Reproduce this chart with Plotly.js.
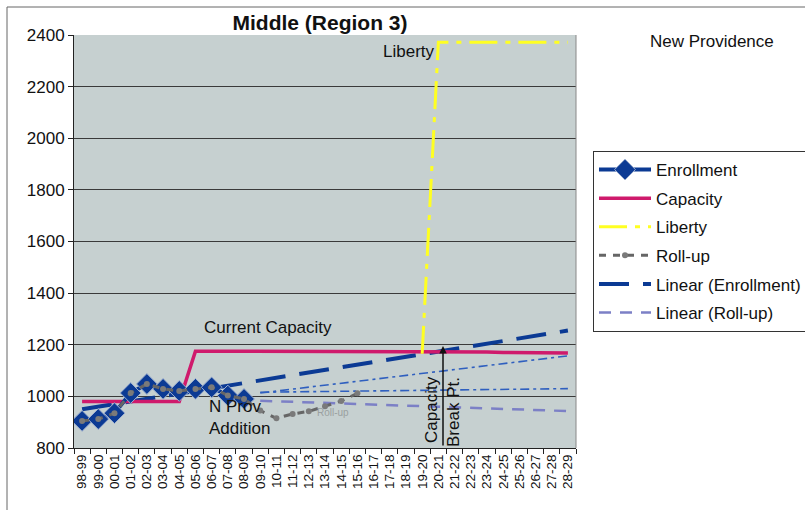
<!DOCTYPE html>
<html>
<head>
<meta charset="utf-8">
<script src="https://cdn.plot.ly/plotly-3.0.1.min.js"></script>
<style>html,body{margin:0;padding:0;background:#fff;}#chart{width:805px;height:510px;}</style>
</head>
<body>
<div id="chart"></div>
<script>
// ---- data ----
const years = ['98-99','99-00','00-01','01-02','02-03','03-04','04-05','05-06','06-07','07-08','08-09',
  '09-10','10-11','11-12','12-13','13-14','14-15','15-16','16-17','17-18','18-19','19-20','20-21',
  '21-22','22-23','23-24','24-25','25-26','26-27','27-28','28-29'];

const enrollmentYears = ['98-99','99-00','00-01','01-02','02-03','03-04','04-05','05-06','06-07','07-08','08-09'];
const enrollment = [905, 912, 935, 1013, 1048, 1029, 1021, 1029, 1035, 1003, 990];

const capacity = [980, 980, 980, 980, 980, 980, 980, 1175, 1175, 1175, 1175, 1175, 1175, 1175, 1175,
  1175, 1175, 1175, 1175, 1175, 1175, 1175, 1172, 1172, 1172, 1172, 1170, 1170, 1170, 1170, 1168];

const libertyYears = ['19-20','20-21','21-22','22-23','23-24','24-25','25-26','26-27','27-28','28-29'];
const liberty = [1165, 2372, 2372, 2372, 2372, 2372, 2372, 2372, 2372, 2372];

const rollupYears = ['98-99','99-00','00-01','01-02','02-03','03-04','04-05','05-06','06-07','07-08','08-09',
  '09-10','10-11','11-12','12-13','13-14','14-15','15-16'];
const rollup = [905, 912, 935, 1013, 1048, 1029, 1021, 1029, 1035, 1003, 990, 945, 915, 932, 942, 962, 982, 1012];

const linEnrollYears = ['98-99','28-29'];
const linEnroll = [950, 1255];

const linRollupYears = ['09-10','28-29'];
const linRollup = [983, 943];

const trendAYears = ['09-10','28-29'];
const trendA = [1013, 1157];
const trendBYears = ['09-10','28-29'];
const trendB = [1016, 1030];

const yTicks = [800, 1000, 1200, 1400, 1600, 1800, 2000, 2200, 2400];

// ---- chart ----
const F = 'Arial, "Liberation Sans", sans-serif';
const traces = [
  {x: linRollupYears, y: linRollup, name: 'Linear (Roll-up)', mode: 'lines', legendrank: 6, legendgroup: 'g6',
   line: {color: '#7C80C6', width: 2.5, dash: '12px,9px'}},
  {x: trendAYears, y: trendA, name: 'trendA', mode: 'lines', showlegend: false,
   line: {color: '#2F5FBF', width: 1.6, dash: '9px,4px,3px,4px'}},
  {x: trendBYears, y: trendB, name: 'trendB', mode: 'lines', showlegend: false,
   line: {color: '#2F5FBF', width: 1.6, dash: '9px,4px,3px,4px'}},
  {x: linEnrollYears, y: linEnroll, name: 'Linear (Enrollment)', mode: 'lines', legendrank: 5, legendgroup: 'g5',
   line: {color: '#0B3A94', width: 4, dash: '30px,14px'}},
  {x: years, y: capacity, name: 'Capacity', mode: 'lines', legendrank: 2, legendgroup: 'g2',
   line: {color: '#CF1A6C', width: 3.5}},
  {x: libertyYears, y: liberty, name: 'Liberty', mode: 'lines', legendrank: 3, legendgroup: 'g3',
   line: {color: '#FFFF22', width: 3, dash: '28px,8px,5px,8px'}},
  {x: enrollmentYears, y: enrollment, name: 'Enrollment', mode: 'lines+markers', legendrank: 1, legendgroup: 'g1',
   line: {color: '#0B3A94', width: 4},
   marker: {symbol: 'diamond', size: 16, color: '#0B3A94', line: {color: '#9FB0D0', width: 1}}},
  {x: rollupYears, y: rollup, name: 'Roll-up', mode: 'lines+markers', legendrank: 4, legendgroup: 'g4',
   line: {color: '#666666', width: 3, dash: '7px,7px'},
   marker: {symbol: 'circle', size: 6, color: '#7A7A7A'}}
];

const px = v => (v - 74) / 502;
const py = v => (448 - v) / 413;
const ann = (text, x, y, extra) => Object.assign({text: text, xref: 'paper', yref: 'paper', x: px(x), y: py(y),
  xanchor: 'center', yanchor: 'middle', showarrow: false, font: {family: F, size: 17, color: '#111'}}, extra || {});

const layout = {
  width: 805, height: 510,
  margin: {l: 74, r: 229, t: 35, b: 62, autoexpand: false},
  paper_bgcolor: '#ffffff',
  plot_bgcolor: '#C6D0D0',
  font: {family: F, color: '#111', size: 17},
  title: {text: '<b>Middle (Region 3)</b>', font: {family: F, size: 21, color: '#111'},
          xref: 'paper', x: px(320), xanchor: 'center', yref: 'container', y: 1 - 23/510, yanchor: 'middle'},
  showlegend: true,
  legend: {x: px(593), xanchor: 'left', y: py(151), yanchor: 'top', traceorder: 'grouped',
           bgcolor: '#ffffff', bordercolor: '#333', borderwidth: 1, tracegroupgap: 3.5, itemwidth: 52,
           font: {family: F, size: 17, color: '#111'}},
  xaxis: {type: 'category', categoryorder: 'array', categoryarray: years, range: [-0.5, 30.5],
          tickmode: 'array', tickvals: years, ticktext: years,
          tickangle: -90, tickson: 'boundaries', ticks: 'outside', ticklen: 5, tickcolor: '#222',
          showline: true, linecolor: '#222', linewidth: 1, showgrid: false, mirror: false,
          tickfont: {family: F, size: 13.5, color: '#111'}, fixedrange: true},
  yaxis: {range: [800, 2400], tickvals: yTicks, ticktext: yTicks.map(String), ticks: 'outside', ticklen: 5,
          tickcolor: '#222', showline: true, linecolor: '#222', linewidth: 1,
          showgrid: true, gridcolor: '#3A3A3A', gridwidth: 1, zeroline: false,
          tickfont: {family: F, size: 17, color: '#111'}, fixedrange: true},
  shapes: [
    {type: 'rect', xref: 'paper', yref: 'paper', x0: px(7), x1: px(810), y0: py(520), y1: py(7),
     line: {color: '#666', width: 1}, fillcolor: 'rgba(0,0,0,0)', layer: 'below'},
    {type: 'line', xref: 'paper', yref: 'paper', x0: 1, x1: 1, y0: 0, y1: 1, line: {color: '#888', width: 1}}
  ],
  annotations: [
    ann('New Providence', 712, 42),
    ann('Liberty', 437, 52, {xanchor: 'right'}),
    ann('Current Capacity', 268, 327),
    ann('N Prov<br>Addition', 207, 417, {xanchor: 'left', align: 'left'}),
    ann('Roll-up', 333, 412, {font: {family: F, size: 10, color: '#9AA0A0'}}),
    ann('Capacity', 431, 410, {textangle: -90}),
    ann('Break Pt.', 453, 412, {textangle: -90}),
    {text: '', xref: 'paper', yref: 'paper', x: px(443), y: py(346), ax: 0, ay: 101, axref: 'pixel', ayref: 'pixel',
     showarrow: true, arrowhead: 2, arrowsize: 1, arrowwidth: 1.5, arrowcolor: '#111'}
  ]
};

Plotly.newPlot('chart', traces, layout, {displayModeBar: false, staticPlot: true});
</script>
</body>
</html>
